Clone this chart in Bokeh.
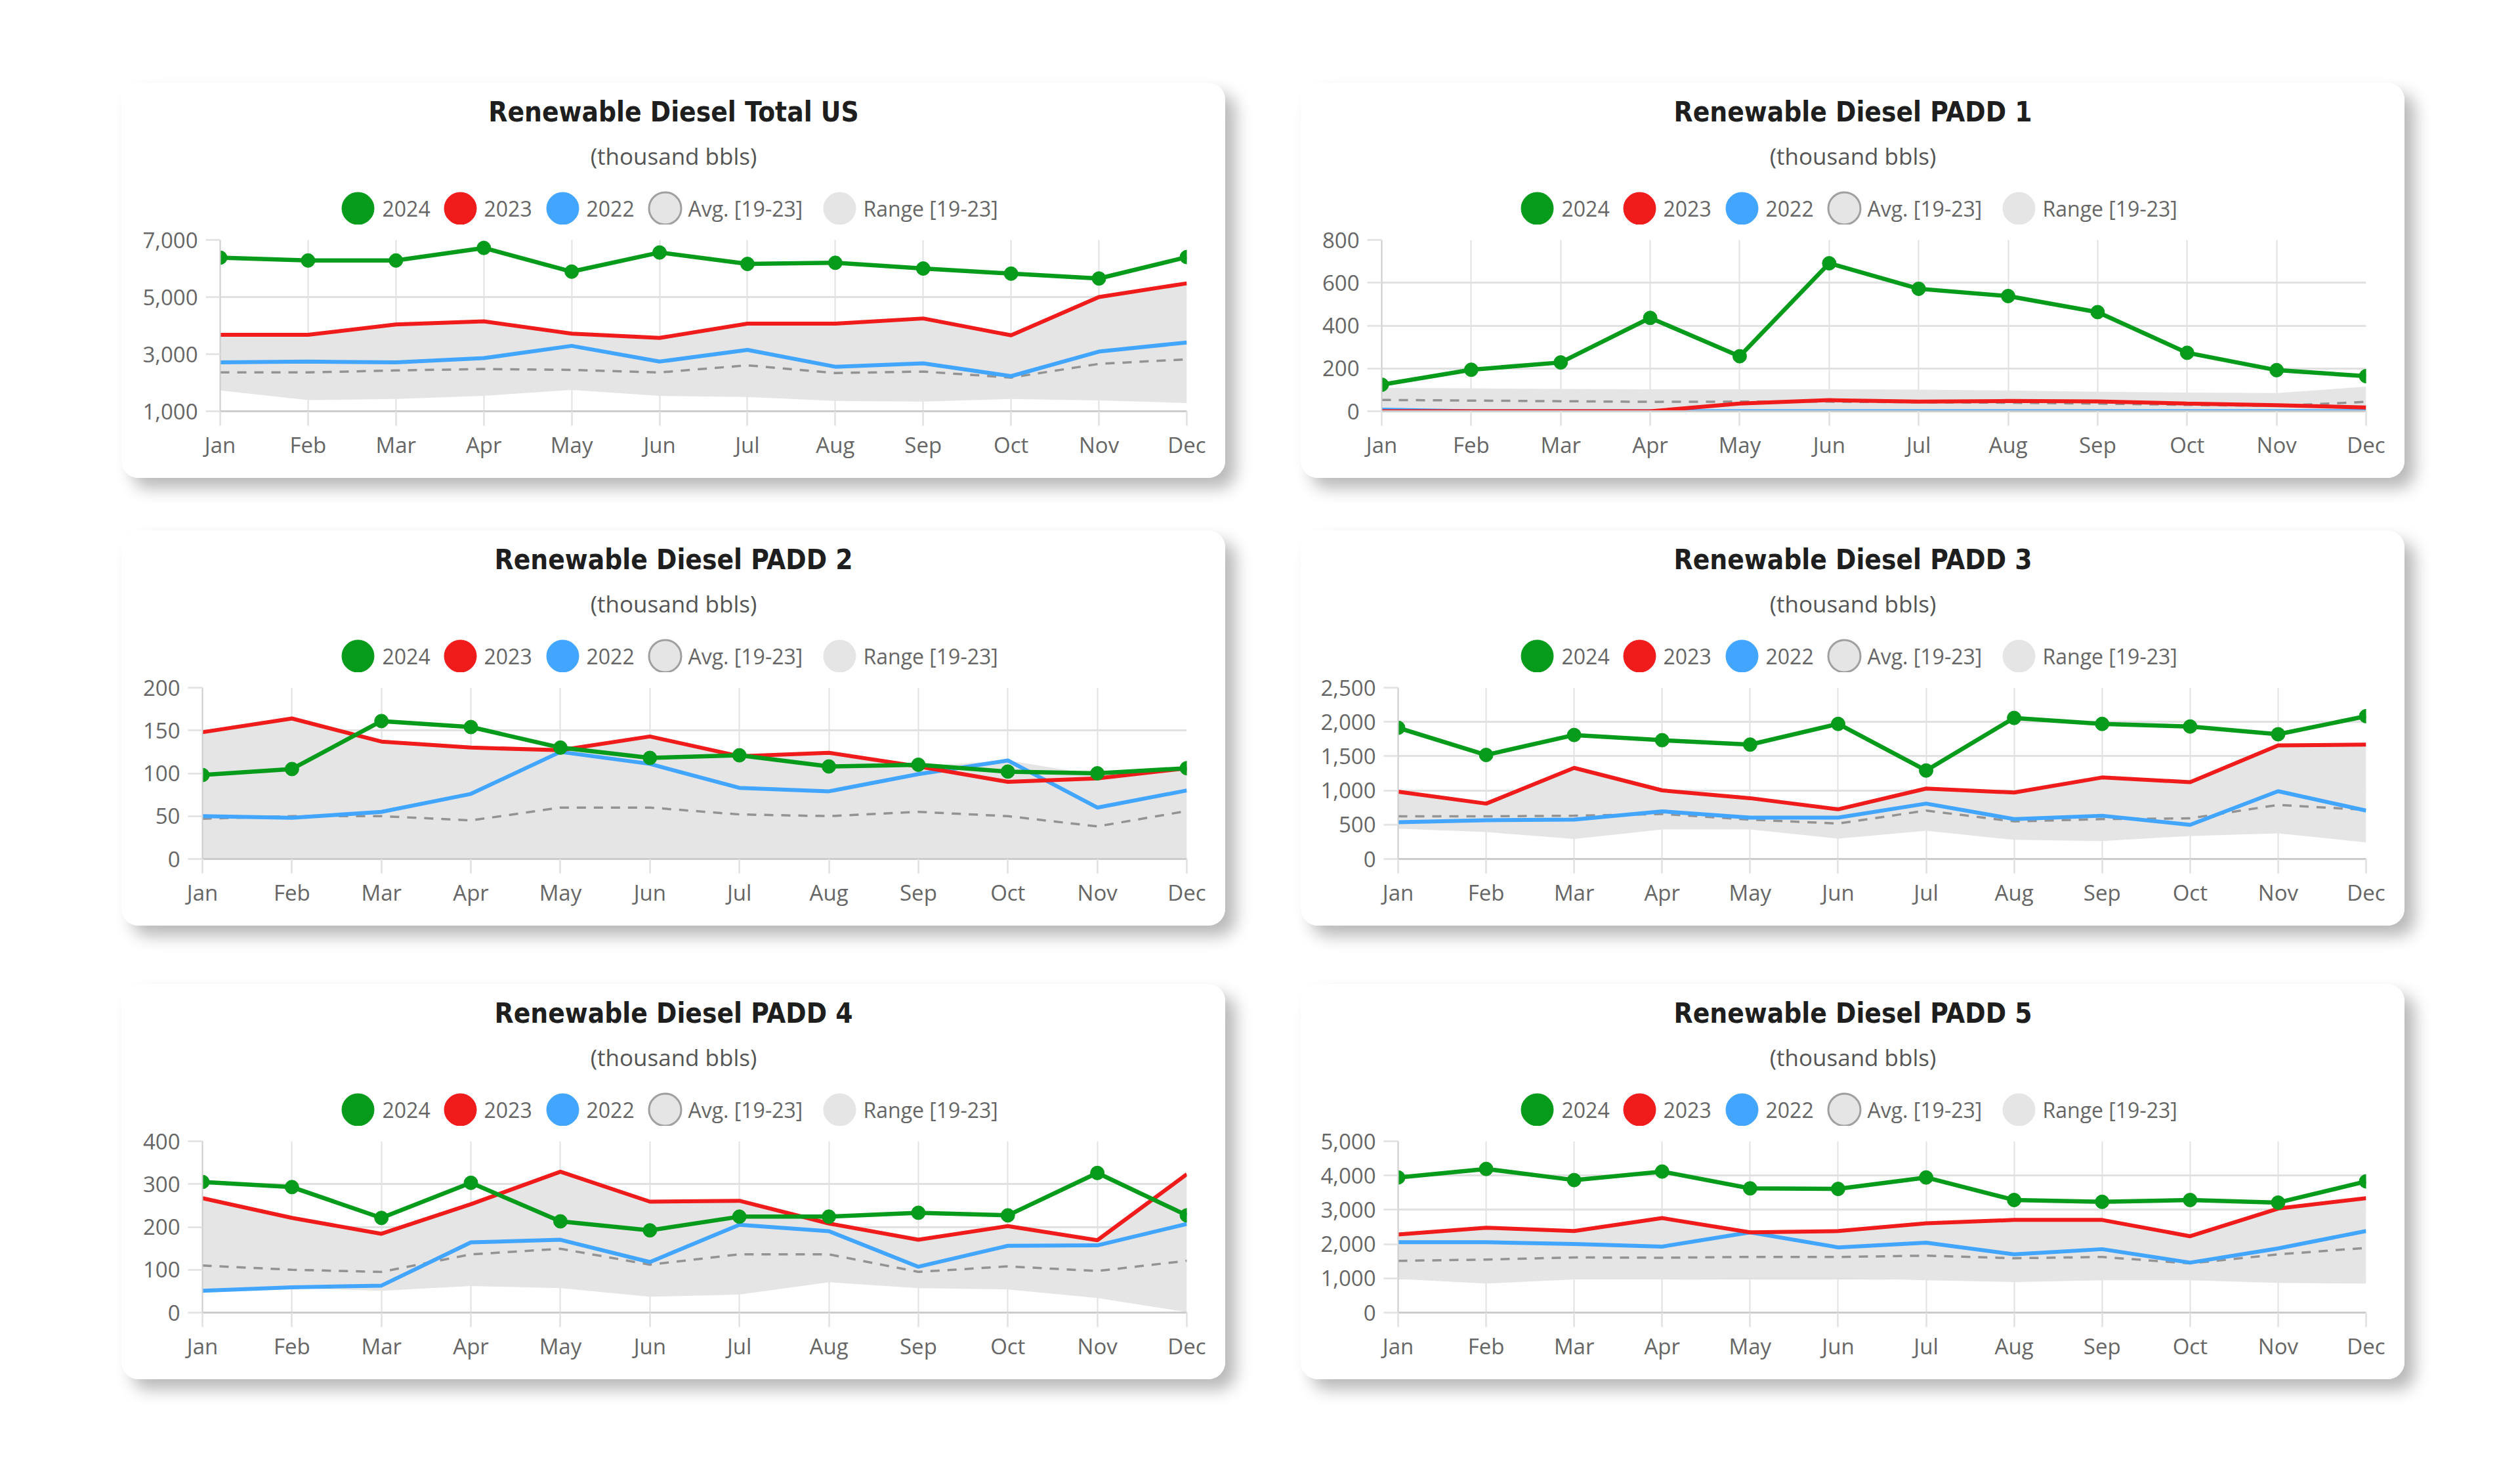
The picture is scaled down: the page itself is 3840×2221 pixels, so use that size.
from bokeh.plotting import figure
from bokeh.layouts import column, row, Spacer
from bokeh.models import Range1d, FixedTicker, NumeralTickFormatter
from bokeh.core.properties import value
from bokeh.embed import file_html
from bokeh.resources import INLINE

# ---------------- data ----------------
months = ["Jan", "Feb", "Mar", "Apr", "May", "Jun", "Jul", "Aug", "Sep", "Oct", "Nov", "Dec"]
series_labels = ["2024", "2023", "2022", "Avg. [19-23]", "Range [19-23]"]
subtitle = "(thousand bbls)"

titles = ["Renewable Diesel Total US", "Renewable Diesel PADD 1", "Renewable Diesel PADD 2",
          "Renewable Diesel PADD 3", "Renewable Diesel PADD 4", "Renewable Diesel PADD 5"]

# Total US
us_2024 = [6380, 6280, 6280, 6720, 5890, 6560, 6160, 6200, 6000, 5820, 5650, 6400]
us_2023 = [3680, 3680, 4040, 4150, 3720, 3570, 4070, 4070, 4250, 3660, 5000, 5480]
us_2022 = [2710, 2740, 2710, 2860, 3290, 2740, 3150, 2560, 2680, 2230, 3090, 3410]
us_avg = [2360, 2360, 2430, 2480, 2450, 2360, 2610, 2340, 2390, 2180, 2660, 2820]
us_lo = [1730, 1390, 1430, 1540, 1750, 1540, 1500, 1360, 1340, 1430, 1380, 1290]
us_hi = [3680, 3680, 4040, 4150, 3720, 3570, 4070, 4070, 4250, 3660, 5000, 5480]
us_ticks = [1000, 3000, 5000, 7000]

# PADD 1
p1_2024 = [124, 194, 228, 436, 257, 691, 572, 538, 463, 273, 192, 164]
p1_2023 = [0, 0, 0, 0, 36, 52, 45, 48, 46, 36, 28, 18]
p1_2022 = [8, 0, 0, 0, 0, 0, 0, 0, 0, 0, 0, 0]
p1_avg = [53, 50, 47, 44, 45, 45, 42, 40, 36, 30, 25, 44]
p1_lo = [0, 0, 0, 0, 0, 0, 0, 0, 0, 0, 0, 0]
p1_hi = [109, 107, 104, 103, 103, 103, 101, 97, 91, 87, 85, 115]
p1_ticks = [0, 200, 400, 600, 800]

# PADD 2
p2_2024 = [98, 105, 161, 154, 130, 118, 121, 108, 110, 102, 100, 106]
p2_2023 = [148, 164, 137, 130, 127, 143, 120, 124, 108, 90, 94, 106]
p2_2022 = [50, 48, 55, 76, 125, 111, 83, 79, 99, 115, 60, 80]
p2_avg = [47, 50, 50, 45, 60, 60, 52, 50, 55, 50, 38, 56]
p2_lo = [0, 0, 0, 0, 0, 0, 0, 0, 0, 0, 0, 0]
p2_hi = [148, 164, 137, 130, 127, 143, 120, 124, 108, 115, 98, 106]
p2_ticks = [0, 50, 100, 150, 200]

# PADD 3
p3_2024 = [1914, 1518, 1809, 1733, 1669, 1971, 1291, 2058, 1971, 1933, 1820, 2084]
p3_2023 = [982, 808, 1329, 1001, 887, 725, 1027, 970, 1189, 1121, 1658, 1669]
p3_2022 = [536, 566, 574, 695, 604, 604, 808, 582, 631, 498, 989, 706]
p3_avg = [623, 623, 631, 657, 574, 517, 706, 548, 582, 593, 789, 717]
p3_lo = [442, 393, 291, 430, 430, 298, 412, 279, 261, 336, 374, 242]
p3_hi = [982, 808, 1329, 1001, 887, 725, 1027, 970, 1189, 1121, 1658, 1669]
p3_ticks = [0, 500, 1000, 1500, 2000, 2500]

# PADD 4
p4_2024 = [305, 293, 221, 303, 213, 192, 224, 224, 233, 227, 326, 227]
p4_2023 = [267, 221, 184, 253, 329, 259, 261, 208, 170, 202, 169, 323]
p4_2022 = [51, 59, 63, 164, 170, 118, 205, 190, 107, 156, 157, 207]
p4_avg = [110, 100, 95, 136, 149, 112, 136, 136, 95, 108, 97, 121]
p4_lo = [51, 57, 51, 62, 57, 37, 42, 71, 57, 54, 34, 1]
p4_hi = [267, 221, 184, 253, 329, 259, 261, 208, 170, 202, 169, 323]
p4_ticks = [0, 100, 200, 300, 400]

# PADD 5
p5_2024 = [3943, 4192, 3867, 4116, 3625, 3610, 3943, 3286, 3233, 3286, 3210, 3829]
p5_2023 = [2281, 2477, 2379, 2757, 2341, 2379, 2606, 2704, 2704, 2228, 3036, 3338]
p5_2022 = [2054, 2054, 2002, 1926, 2341, 1903, 2039, 1699, 1851, 1458, 1873, 2379]
p5_avg = [1511, 1548, 1609, 1601, 1624, 1624, 1662, 1586, 1624, 1435, 1699, 1888]
p5_lo = [982, 846, 967, 967, 1020, 1020, 944, 891, 944, 944, 869, 846]
p5_hi = [2281, 2477, 2379, 2757, 2341, 2379, 2606, 2704, 2704, 2228, 3036, 3338]
p5_ticks = [0, 1000, 2000, 3000, 4000, 5000]

# ---------------- styling ----------------
GREEN = "#069b1a"
RED = "#f01b1b"
BLUE = "#42a5ff"
AVG = "#939393"
RANGE = "#e5e5e5"
GRID = "#e1e1e1"
TICK_FONT = "Open Sans"

PANEL_W = 1682
PANEL_H = 602
HDR_H = 216
CH_H = PANEL_H - HDR_H
TOP_BORDER = 23

panels = [
    dict(title=titles[0], s24=us_2024, s23=us_2023, s22=us_2022, avg=us_avg, lo=us_lo, hi=us_hi, ticks=us_ticks, left=150, right=59),
    dict(title=titles[1], s24=p1_2024, s23=p1_2023, s22=p1_2022, avg=p1_avg, lo=p1_lo, hi=p1_hi, ticks=p1_ticks, left=123, right=59),
    dict(title=titles[2], s24=p2_2024, s23=p2_2023, s22=p2_2022, avg=p2_avg, lo=p2_lo, hi=p2_hi, ticks=p2_ticks, left=123, right=59),
    dict(title=titles[3], s24=p3_2024, s23=p3_2023, s22=p3_2022, avg=p3_avg, lo=p3_lo, hi=p3_hi, ticks=p3_ticks, left=148, right=59),
    dict(title=titles[4], s24=p4_2024, s23=p4_2023, s22=p4_2022, avg=p4_avg, lo=p4_lo, hi=p4_hi, ticks=p4_ticks, left=123, right=59),
    dict(title=titles[5], s24=p5_2024, s23=p5_2023, s22=p5_2022, avg=p5_avg, lo=p5_lo, hi=p5_hi, ticks=p5_ticks, left=148, right=59),
]

xs = list(range(len(months)))


def make_header(d):
    # header uses the same side borders as the chart below it, so that layout
    # frame alignment does not matter; data units == panel pixels
    left, right = d["left"], d["right"]
    h = figure(width=PANEL_W, height=HDR_H, x_range=Range1d(left, PANEL_W - right),
               y_range=Range1d(HDR_H, 0),
               x_axis_type=None, y_axis_type=None, output_backend="svg", toolbar_location=None,
               min_border_left=left, min_border_right=right, min_border_top=0, min_border_bottom=0,
               outline_line_color=None, background_fill_color="white",
               border_fill_color="white")
    h.grid.visible = False
    h.text(x=[PANEL_W / 2], y=[44], text=[d["title"]], text_align="center", text_baseline="middle",
           text_font=value("DejaVu Sans Condensed"), text_font_style="bold",
           text_font_size="42px", text_color="#1e1e1e")
    h.text(x=[PANEL_W / 2], y=[111], text=[subtitle], text_align="center", text_baseline="middle",
           text_font=value(TICK_FONT), text_font_size="35px", text_color="#555555")
    cx = [360, 516, 672, 828, 1094]
    tx = [397, 552, 708, 863, 1130]
    ly = 191
    h.scatter(x=cx, y=[ly] * 5, size=49,
              fill_color=[GREEN, RED, BLUE, RANGE, RANGE],
              line_color=[GREEN, RED, BLUE, "#a0a0a0", RANGE],
              line_width=[1, 1, 1, 3, 1])
    h.text(x=tx, y=[ly] * 5, text=series_labels, text_align="left", text_baseline="middle",
           text_font=value(TICK_FONT), text_font_size="32px", text_color="#666666")
    return h


def make_chart(d):
    ticks = d["ticks"]
    c = figure(width=PANEL_W, height=CH_H, x_range=Range1d(0, 11), y_range=Range1d(ticks[0], ticks[-1]),
               output_backend="svg", toolbar_location=None,
               min_border_left=d["left"], min_border_right=d["right"], min_border_top=TOP_BORDER,
               min_border_bottom=102, outline_line_color=None,
               background_fill_color="white", border_fill_color="white")
    c.xaxis.ticker = FixedTicker(ticks=xs)
    c.xaxis.major_label_overrides = {i: m for i, m in enumerate(months)}
    c.yaxis.ticker = FixedTicker(ticks=ticks)
    c.yaxis.formatter = NumeralTickFormatter(format="0,0")
    c.xgrid.ticker = FixedTicker(ticks=xs)
    c.ygrid.ticker = FixedTicker(ticks=ticks)
    for ax in (c.xaxis[0], c.yaxis[0]):
        ax.major_label_text_font = TICK_FONT
        ax.major_label_text_font_size = "33px"
        ax.major_label_text_color = "#666666"
        ax.major_tick_out = 22
        ax.major_tick_in = 0
        ax.major_tick_line_color = GRID
        ax.major_tick_line_width = 2.5
        ax.minor_tick_line_color = None
        ax.axis_line_color = "#cccccc"
    c.xaxis.axis_line_width = 3
    c.yaxis.axis_line_width = 2
    c.xaxis.major_label_standoff = 6
    c.yaxis.major_label_standoff = 12
    c.grid.grid_line_color = GRID
    c.xgrid.grid_line_width = 2
    c.ygrid.grid_line_width = 3

    c.varea(x=xs, y1=d["lo"], y2=d["hi"], fill_color=RANGE)
    c.line(xs, d["avg"], line_color=AVG, line_width=3.5, line_dash="14 12")
    c.line(xs, d["s22"], line_color=BLUE, line_width=6)
    c.line(xs, d["s23"], line_color=RED, line_width=6)
    c.line(xs, d["s24"], line_color=GREEN, line_width=6.5)
    c.scatter(xs, d["s24"], size=21, fill_color=GREEN, line_color=GREEN)
    return c


panel_style = {
    "border-radius": "26px",
    "overflow": "hidden",
    "background-color": "white",
    "box-shadow": "16px 16px 24px rgba(0,0,0,0.28)",
}


def make_panel(d):
    return column(make_header(d), make_chart(d), spacing=0, styles=panel_style)


ps = [make_panel(d) for d in panels]

layout = column(
    Spacer(width=10, height=126),
    row(Spacer(width=185, height=10), ps[0], Spacer(width=115, height=10), ps[1]),
    Spacer(width=10, height=80),
    row(Spacer(width=185, height=10), ps[2], Spacer(width=115, height=10), ps[3]),
    Spacer(width=10, height=89),
    row(Spacer(width=185, height=10), ps[4], Spacer(width=115, height=10), ps[5]),
)

open("out.html", "w").write(file_html(layout, INLINE, "Renewable Diesel"))
